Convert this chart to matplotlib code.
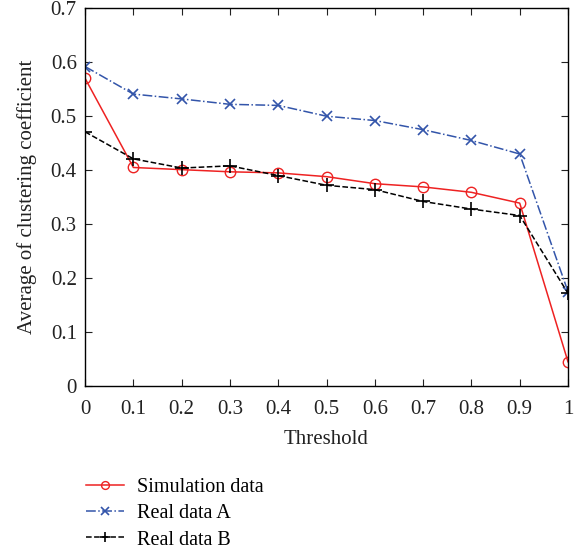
import matplotlib
matplotlib.use("Agg")
import matplotlib.pyplot as plt

thresholds = [0, 0.1, 0.2, 0.3, 0.4, 0.5, 0.6, 0.7, 0.8, 0.9, 1.0]
simulation = [0.570, 0.405, 0.401, 0.397, 0.395, 0.388, 0.375, 0.369, 0.359, 0.339, 0.045]
real_a = [0.592, 0.541, 0.532, 0.522, 0.520, 0.500, 0.492, 0.475, 0.455, 0.430, 0.175]
real_b = [0.471, 0.421, 0.404, 0.408, 0.390, 0.372, 0.364, 0.342, 0.328, 0.316, 0.172]
xticklabels = ["0", "0.1", "0.2", "0.3", "0.4", "0.5", "0.6", "0.7", "0.8", "0.9", "1"]
yticks = [0, 0.1, 0.2, 0.3, 0.4, 0.5, 0.6, 0.7]
yticklabels = ["0", "0.1", "0.2", "0.3", "0.4", "0.5", "0.6", "0.7"]

plt.rcParams['font.family'] = ['Liberation Serif', 'DejaVu Serif']
plt.rcParams['font.size'] = 15

fig = plt.figure(figsize=(5.79, 5.50), dpi=100)
ax = fig.add_axes([0.147, 0.298, 0.834, 0.687])

ax.plot(thresholds, simulation, color='#ee2222', linestyle='-', linewidth=1.1,
        marker='o', markersize=7.5, markerfacecolor='none', markeredgecolor='#ee2222',
        label='Simulation data')
ax.plot(thresholds, real_a, color='#3355aa', linestyle='-.', linewidth=1.1,
        marker='x', markersize=7, markeredgewidth=1.2, label='Real data A')
ax.plot(thresholds, real_b, color='black', linestyle='--', linewidth=1.1,
        marker='+', markersize=10, markeredgewidth=1.2, label='Real data B')

ax.set_xlim(0, 1)
ax.set_ylim(0, 0.7)
ax.set_xticks(thresholds)
ax.set_xticklabels(xticklabels)
ax.set_yticks(yticks)
ax.set_yticklabels(yticklabels)
ax.tick_params(direction='in', top=True, right=True, length=5, labelsize=15, colors='#222222')
ax.tick_params(axis='x', pad=10)
ax.tick_params(axis='y', pad=6)
for s in ax.spines.values():
    s.set_linewidth(1.0)
ax.set_xlabel('Threshold', fontsize=15, color='#222222', labelpad=8)
ax.set_ylabel('Average of clustering coefficient', fontsize=15, color='#222222', labelpad=10)

fig.legend(loc='upper left', bbox_to_anchor=(0.135, 0.146), frameon=False, fontsize=14.5,
           handlelength=1.9, handletextpad=0.6, labelspacing=0.36, borderaxespad=0,
           markerscale=0.75)

fig.savefig('out.png', dpi=100)
